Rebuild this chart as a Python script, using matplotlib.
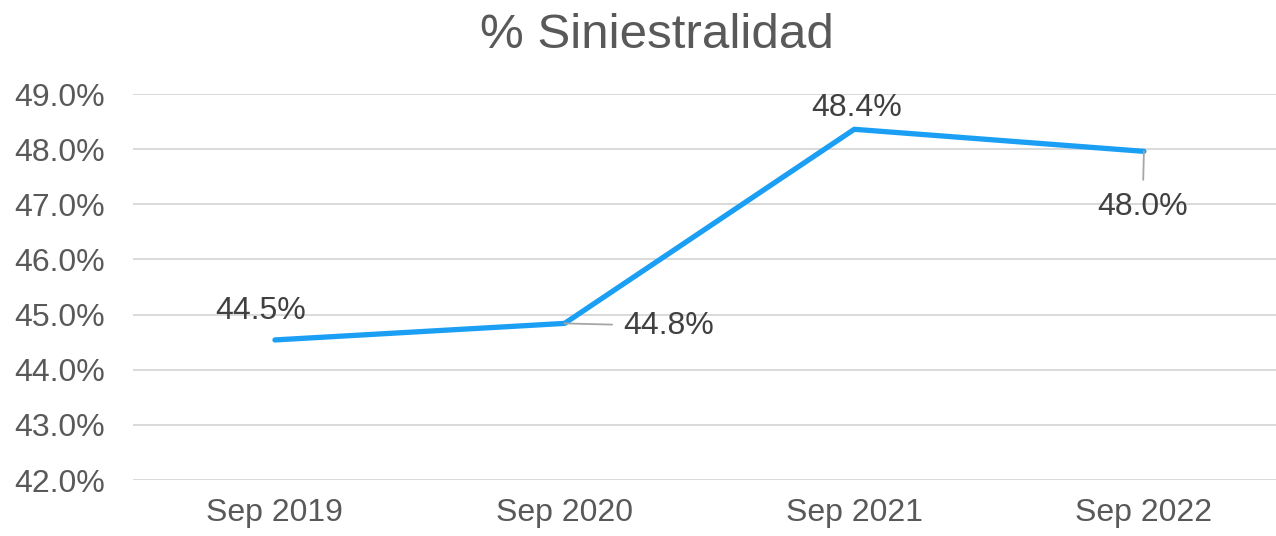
import matplotlib
matplotlib.use("Agg")
import matplotlib.pyplot as plt

plt.rcParams['font.family'] = ['Liberation Sans', 'DejaVu Sans']

categories = ["Sep 2019", "Sep 2020", "Sep 2021", "Sep 2022"]
values = [44.54, 44.84, 48.36, 47.96]
labels = ["44.5%", "44.8%", "48.4%", "48.0%"]
yticks = [42, 43, 44, 45, 46, 47, 48, 49]
title = "% Siniestralidad"

W, H = 1276, 536
fig = plt.figure(figsize=(W / 100, H / 100), dpi=100)
ax = fig.add_axes([133 / W, (H - 480) / H, (W - 133) / W, (480 - 94) / H])

x = list(range(len(categories)))
ax.plot(x, values, color="#1B9FF4", linewidth=3.8, solid_capstyle="round", zorder=3)

ax.set_ylim(42, 49)
ax.set_xlim(-0.49, 3.456)
ax.set_yticks(yticks)
ax.set_yticklabels([f"{v:.1f}%" for v in yticks])
ax.set_xticks(x)
ax.set_xticklabels(categories)
ax.tick_params(axis="both", length=0, labelsize=23, colors="#595959")
ax.tick_params(axis="y", pad=20)
ax.tick_params(axis="x", pad=13)
ax.grid(axis="y", color="#D9D9D9", linewidth=1.4)
ax.set_axisbelow(True)
for s in ax.spines.values():
    s.set_visible(False)

lab_kw = dict(fontsize=23, color="#404040", textcoords="offset pixels", ha="center", va="center")
leader = dict(arrowstyle="-", color="#A6A6A6", linewidth=1.3, shrinkB=0)
# 44.5%
ax.annotate(labels[0], (x[0], values[0]), xytext=(-14, 29), **lab_kw)
# 44.8% with horizontal leader
ax.annotate(labels[1], (x[1], values[1]), xytext=(104, -3),
            arrowprops=dict(**leader, shrinkA=6, relpos=(0, 0.55)), **lab_kw)
# 48.4%
ax.annotate(labels[2], (x[2], values[2]), xytext=(2, 21), **lab_kw)
# 48.0% with vertical leader
ax.annotate(labels[3], (x[3], values[3]), xytext=(-1, -56),
            arrowprops=dict(**leader, shrinkA=7, relpos=(0.5, 1)), **lab_kw)

fig.text(657 / W, 1 - 35 / H, title, ha="center", va="center", fontsize=35.5, color="#595959")

fig.savefig("out.png", dpi=100)
